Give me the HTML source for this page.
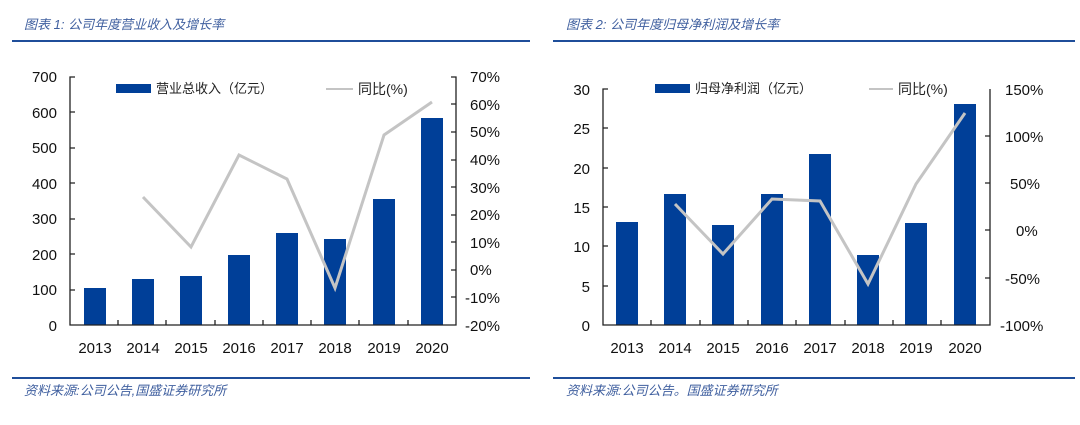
<!DOCTYPE html>
<html><head><meta charset="utf-8"><style>
body{margin:0;background:#fff;width:1080px;height:420px;overflow:hidden}
text{font-family:"Liberation Sans","Noto Sans CJK SC",sans-serif}
.t{font-style:italic;fill:#3f5f9f;font-size:13px}
.a{font-size:15px;fill:#111}
</style></head><body>
<svg width="1080" height="420" xmlns="http://www.w3.org/2000/svg">
<!-- Chart 1 -->
<text x="24" y="29" class="t">图表 1:  公司年度营业收入及增长率</text>
<line x1="12" y1="41" x2="530" y2="41" stroke="#1f4e9a" stroke-width="2"/>
<line x1="12" y1="378" x2="530" y2="378" stroke="#1f4e9a" stroke-width="2"/>
<text x="24" y="395" class="t">资料来源:公司公告,国盛证券研究所</text>
<g fill="#003f98">
<rect x="84" y="288" width="22" height="37"/><rect x="132" y="279" width="22" height="46"/>
<rect x="180" y="276" width="22" height="49"/><rect x="228" y="255" width="22" height="70"/>
<rect x="276" y="233" width="22" height="92"/><rect x="324" y="239" width="22" height="86"/>
<rect x="373" y="199" width="22" height="126"/><rect x="421" y="118" width="22" height="207"/>
</g>
<polyline points="143,197 191,247 239,155 287,179 335,288 384,135 432,102" fill="none" stroke="#c4c4c4" stroke-width="3"/>
<g stroke="#222" stroke-width="1.3" fill="none">
<path d="M75,77 H70 V325 H456 V77 H451"/>
<path d="M70,112H75M70,148H75M70,183H75M70,219H75M70,254H75M70,290H75"/>
<path d="M456,104H451M456,132H451M456,160H451M456,187H451M456,215H451M456,242H451M456,270H451M456,297H451"/>
<path d="M118,325V320M166,325V320M215,325V320M263,325V320M311,325V320M359,325V320M408,325V320"/>
</g>
<g class="a" text-anchor="end"><text x="57" y="82">700</text><text x="57" y="118">600</text><text x="57" y="153">500</text><text x="57" y="189">400</text><text x="57" y="224">300</text><text x="57" y="260">200</text><text x="57" y="295">100</text><text x="57" y="331">0</text></g>
<g class="a"><text x="470" y="82">70%</text><text x="470" y="110">60%</text><text x="470" y="137">50%</text><text x="470" y="165">40%</text><text x="470" y="193">30%</text><text x="470" y="220">20%</text><text x="470" y="248">10%</text><text x="470" y="275">0%</text><text x="465" y="303">-10%</text><text x="465" y="331">-20%</text></g>
<g class="a" text-anchor="middle"><text x="95" y="353">2013</text><text x="143" y="353">2014</text><text x="191" y="353">2015</text><text x="239" y="353">2016</text><text x="287" y="353">2017</text><text x="335" y="353">2018</text><text x="384" y="353">2019</text><text x="432" y="353">2020</text></g>
<rect x="116" y="84" width="35" height="9" fill="#003f98"/>
<text x="156" y="93" style="font-size:13px;fill:#222">营业总收入（亿元）</text>
<line x1="326" y1="89" x2="353" y2="89" stroke="#c4c4c4" stroke-width="2"/>
<text x="358" y="94" style="font-size:14px;fill:#222">同比(%)</text>
<!-- Chart 2 -->
<text x="566" y="29" class="t">图表 2:  公司年度归母净利润及增长率</text>
<line x1="553" y1="41" x2="1075" y2="41" stroke="#1f4e9a" stroke-width="2"/>
<line x1="553" y1="378" x2="1075" y2="378" stroke="#1f4e9a" stroke-width="2"/>
<text x="566" y="395" class="t">资料来源:公司公告。国盛证券研究所</text>
<g fill="#003f98">
<rect x="616" y="222" width="22" height="103"/><rect x="664" y="194" width="22" height="131"/>
<rect x="712" y="225" width="22" height="100"/><rect x="761" y="194" width="22" height="131"/>
<rect x="809" y="154" width="22" height="171"/><rect x="857" y="255" width="22" height="70"/>
<rect x="905" y="223" width="22" height="102"/><rect x="954" y="104" width="22" height="221"/>
</g>
<polyline points="675,204 723,254 772,199 820,201 868,284 916,184 965,113" fill="none" stroke="#c4c4c4" stroke-width="3"/>
<g stroke="#222" stroke-width="1.3" fill="none">
<path d="M608,89 H603 V325 H990 V89"/>
<path d="M603,128H608M603,168H608M603,207H608M603,246H608M603,286H608"/>
<path d="M990,136H985M990,183H985M990,230H985M990,278H985"/>
<path d="M651,325V320M700,325V320M748,325V320M796,325V320M845,325V320M893,325V320M941,325V320"/>
</g>
<g class="a" text-anchor="end"><text x="590" y="95">30</text><text x="590" y="134">25</text><text x="590" y="174">20</text><text x="590" y="213">15</text><text x="590" y="252">10</text><text x="590" y="292">5</text><text x="590" y="331">0</text></g>
<g class="a"><text x="1005" y="95">150%</text><text x="1005" y="142">100%</text><text x="1010" y="189">50%</text><text x="1016" y="236">0%</text><text x="1005" y="284">-50%</text><text x="1000" y="331">-100%</text></g>
<g class="a" text-anchor="middle"><text x="627" y="353">2013</text><text x="675" y="353">2014</text><text x="723" y="353">2015</text><text x="772" y="353">2016</text><text x="820" y="353">2017</text><text x="868" y="353">2018</text><text x="916" y="353">2019</text><text x="965" y="353">2020</text></g>
<rect x="655" y="84" width="35" height="9" fill="#003f98"/>
<text x="695" y="93" style="font-size:13px;fill:#222">归母净利润（亿元）</text>
<line x1="869" y1="89" x2="893" y2="89" stroke="#c4c4c4" stroke-width="2"/>
<text x="898" y="94" style="font-size:14px;fill:#222">同比(%)</text>
</svg>
</body></html>
